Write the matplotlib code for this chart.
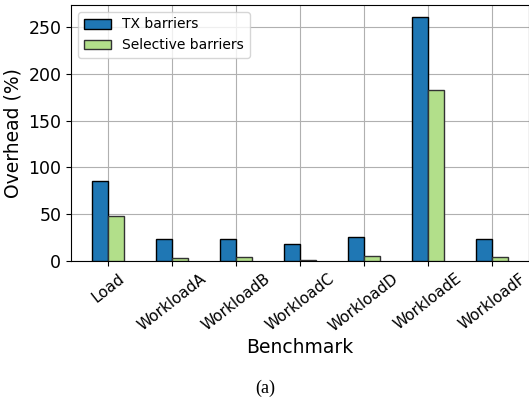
import numpy as np
import matplotlib
matplotlib.use("Agg")
import matplotlib.pyplot as plt

# overhead (%) per YCSB benchmark
benchmarks = ['Load', 'WorkloadA', 'WorkloadB', 'WorkloadC', 'WorkloadD', 'WorkloadE', 'WorkloadF']
tx_barriers = [85.5, 23.5, 23.5, 18.5, 25.5, 260.5, 24.0]
selective_barriers = [48.5, 3.2, 4.3, 1.0, 5.5, 183.0, 4.0]

fig = plt.figure(figsize=(5.29, 4.0), dpi=100)
ax = fig.add_axes([71/529, 1 - 261/400, 458/529, 256/400])

x = np.arange(len(benchmarks))
w = 0.25
ax.bar(x - w/2, tx_barriers, w, color='#1f77b4', edgecolor='black', label='TX barriers', zorder=3)
ax.bar(x + w/2, selective_barriers, w, color='#b2df8a', edgecolor='#333333', label='Selective barriers', zorder=3)

ax.set_xticks(x)
ax.set_xticklabels(benchmarks, rotation=38, fontsize=11)
ax.tick_params(axis='y', labelsize=12.5)
ax.set_xlabel('Benchmark', fontsize=13.5, labelpad=3)
ax.set_ylabel('Overhead (%)', fontsize=13.5)
ax.grid(True, color='#b0b0b0', linewidth=0.8, zorder=0)
ax.set_axisbelow(True)
ax.legend(loc='upper left', fontsize=10)

fig.text(265/529, 1 - 388/400, '(a)', family='Liberation Serif', fontsize=13, ha='center', va='center')

fig.savefig('out.png', dpi=100)
